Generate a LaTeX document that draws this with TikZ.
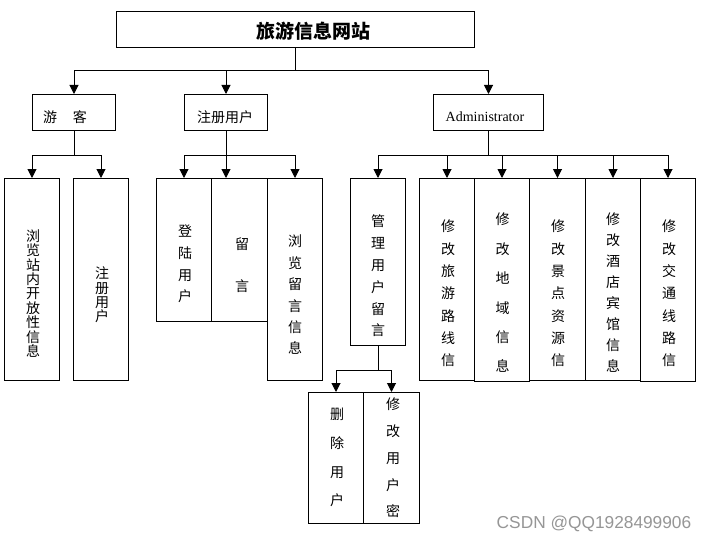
\documentclass[tikz,border=0pt]{standalone}
\usepackage{fontspec}
\setmainfont{Liberation Serif}
\newfontfamily\cjk{Noto Sans CJK SC}
\newfontfamily\wmfont{Liberation Sans}
\usetikzlibrary{arrows.meta}
\definecolor{wmgray}{RGB}{150,150,150}
\newcommand\myvf[1]{\cjk\fontsize{14}{#1}\selectfont}
\begin{document}
\begin{tikzpicture}[x=1pt,y=-1pt,
  box/.style={draw, line width=1pt, rectangle, inner sep=0pt, anchor=north west},
  arr/.style={line width=1pt, -{Triangle[length=9pt,width=9pt]}},
  vt/.style={inner sep=0pt, align=center},
  ht/.style={inner sep=0pt, font=\cjk\fontsize{14}{14}\selectfont}]
\useasboundingbox[fill=white] (0,0) rectangle (707,543);

% level 0
\node[box, minimum width=358pt, minimum height=36pt] (top) at (116,11) {};
\node[inner sep=0pt, font=\cjk\bfseries\fontsize{19}{19}\selectfont] (ttop) at (313,31) {旅游信息网站};

% level 1
\node[box, minimum width=83pt, minimum height=36pt] (yk) at (32,94) {};
\node[ht] (tyk) at (65,117) {游\hspace{16pt}客};
\node[box, minimum width=83pt, minimum height=36pt] (zc) at (184,94) {};
\node[ht] (tzc) at (225,117) {注册用户};
\node[box, minimum width=110pt, minimum height=36pt] (ad) at (433,94) {};
\node[inner sep=0pt, font=\fontsize{14}{14}\selectfont] (tad) at (485,117) {Administrator};

% level 2
\node[box, minimum width=55pt, minimum height=202pt] (b1) at (4,178) {};
\node[vt, font=\myvf{14.4}] (t1) at (33,293.5) {浏\\览\\站\\内\\开\\放\\性\\信\\息};
\node[box, minimum width=55pt, minimum height=202pt] (b2) at (73,178) {};
\node[vt, font=\myvf{14.3}] (t2) at (102,295) {注\\册\\用\\户};

\node[box, minimum width=55pt, minimum height=143pt] (dl) at (156,178) {};
\node[vt, font=\myvf{21.7}] (t3) at (185,264) {登\\陆\\用\\户};
\node[box, minimum width=56pt, minimum height=143pt] (ly) at (211,178) {};
\node[vt, font=\myvf{42}] (t4) at (242,265.5) {留\\言};
\node[box, minimum width=55pt, minimum height=202pt] (lx) at (267,178) {};
\node[vt, font=\myvf{21.4}] (t5) at (295,295) {浏\\览\\留\\言\\信\\息};

\node[box, minimum width=55pt, minimum height=167pt] (gl) at (350,178) {};
\node[vt, font=\myvf{21.8}] (t6) at (378,276) {管\\理\\用\\户\\留\\言};
\node[box, minimum width=55pt, minimum height=202pt] (b7) at (419,178) {};
\node[vt, font=\myvf{22.3}] (t7) at (448,293.5) {修\\改\\旅\\游\\路\\线\\信};
\node[box, minimum width=55pt, minimum height=203pt] (b8) at (474,178) {};
\node[vt, font=\myvf{29.4}] (t8) at (502.7,293) {修\\改\\地\\域\\信\\息};
\node[box, minimum width=56pt, minimum height=202pt] (b9) at (529,178) {};
\node[vt, font=\myvf{22.3}] (t9) at (558,293.5) {修\\改\\景\\点\\资\\源\\信};
\node[box, minimum width=55pt, minimum height=202pt] (b10) at (585,178) {};
\node[vt, font=\myvf{21}] (t10) at (613,293) {修\\改\\酒\\店\\宾\\馆\\信\\息};
\node[box, minimum width=55pt, minimum height=203pt] (b11) at (640,178) {};
\node[vt, font=\myvf{22.3}] (t11) at (669,293.5) {修\\改\\交\\通\\线\\路\\信};

% level 3
\node[box, minimum width=55pt, minimum height=131pt] (sc) at (308,392) {};
\node[vt, font=\myvf{28.7}] (t12) at (337,457.5) {删\\除\\用\\户};
\node[box, minimum width=56pt, minimum height=131pt] (xg) at (363,392) {};
\node[vt, font=\myvf{26.7}] (t13) at (393,458) {修\\改\\用\\户\\密};

% connectors
\draw[arr] (top.south) -- ++(0,23) -| (yk.north);
\draw[arr] (top.south) -- ++(0,23) -| (zc.north);
\draw[arr] (top.south) -- ++(0,23) -| (ad.north);

\draw[arr] (yk.south) -- ++(0,24) -| (b1.north);
\draw[arr] (yk.south) -- ++(0,24) -| (b2.north);

\draw[arr] (zc.south) -- ++(0,24) -| (dl.north);
\draw[arr] (zc.south) -- (zc.south |- ly.north);
\draw[arr] (zc.south) -- ++(0,24) -| (lx.north);

\foreach \c in {gl,b7,b8,b9,b10,b11}
  \draw[arr] (ad.south) -- ++(0,24) -| (\c.north);

\draw[arr] (gl.south) -- ++(0,24) -| (sc.north);
\draw[arr] (gl.south) -- ++(0,24) -| (xg.north);

% watermark
\node[inner sep=0pt, text=wmgray, font=\wmfont\fontsize{17.3}{17.3}\selectfont] (wm) at (594,524) {CSDN @QQ1928499906};
\end{tikzpicture}
\end{document}
